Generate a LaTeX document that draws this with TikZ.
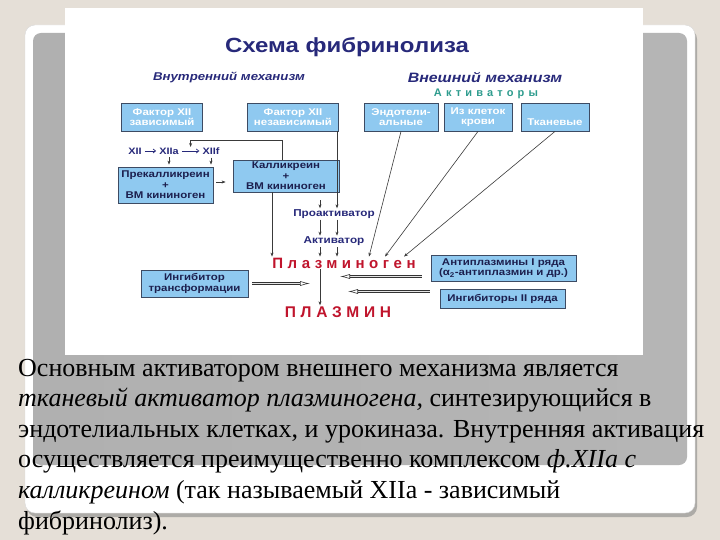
\documentclass[tikz,border=0pt]{standalone}
\usepackage{fontspec}
\setmainfont{Liberation Serif}
\setsansfont{Liberation Sans}
\newfontfamily\boxfont[FakeStretch=1.17]{Liberation Sans}
\newfontfamily\spacedA[LetterSpace=30]{Liberation Sans}
\newfontfamily\spacedB[LetterSpace=38]{Liberation Sans}
\usetikzlibrary{positioning,arrows.meta,calc}
\definecolor{bgbeige}{HTML}{E5DFD7}
\definecolor{boxblue}{HTML}{8FC9F0}
\definecolor{boxline}{HTML}{3D4B63}
\definecolor{navy}{HTML}{27297A}
\definecolor{boxtext}{HTML}{1C1F4E}
\definecolor{actteal}{HTML}{2E9C8E}
\definecolor{plred}{HTML}{C0142C}
\definecolor{lnk}{HTML}{3A3A3A}

\begin{document}
\begin{tikzpicture}[x=1pt, y=-1pt, >={Stealth[length=4pt,width=3pt]},
  fbox/.style={draw=boxline, line width=0.8pt, fill=boxblue, align=center, inner sep=1pt,
    text=boxtext, font=\boxfont\bfseries\fontsize{9.8}{10.5}\selectfont},
  hbox/.style={fbox, text=white},
  hdr/.style={text=navy, inner sep=1pt, font=\boxfont\bfseries\itshape\fontsize{11.3}{13}\selectfont},
  lbl/.style={text=navy, inner sep=1pt, font=\boxfont\bfseries\fontsize{10}{12}\selectfont},
  seqtxt/.style={text=navy, inner sep=1pt, font=\boxfont\bfseries\fontsize{9.3}{11}\selectfont},
  seqarr/.style={draw=navy, line width=0.7pt, -{Straight Barb[length=2.5pt,width=4pt]}},
  lnkarr/.style={draw=lnk, line width=0.6pt, ->},
  hollow/.style={draw=gray!40!black, line width=0.6pt, double=gray!20, double distance=1.1pt,
    -{Latex[open, length=10pt, width=5pt]}},
  plasma/.style={text=plred, inner sep=1pt},
  captxt/.style={anchor=base west, inner sep=0pt, font=\fontsize{26}{30}\selectfont}]
  \useasboundingbox (0,0) rectangle (720,540);
  \fill[bgbeige] (0,0) rectangle (720,540);

  % slide frame
  \fill[rounded corners=10, gray!55!bgbeige] (27,29) rectangle (697,517);
  \filldraw[rounded corners=10, fill=white, draw=gray!30] (25,25) rectangle (695,513);
  \shade[rounded corners=8, left color=gray!62, middle color=gray!18, right color=gray!58] (33,33) rectangle (687,465);
  \fill[white] (65,8) rectangle (643,355);

  % headings
  \node[text=navy, font=\boxfont\bfseries\fontsize{20.5}{24}\selectfont] (title) at (347,47) {Схема фибринолиза};
  \node[hdr] (intl) at (229,77) {Внутренний механизм};
  \node[hdr, font=\boxfont\bfseries\itshape\fontsize{13.6}{15}\selectfont] (extl) at (485,77) {Внешний механизм};
  \node[text=actteal, inner sep=1pt, font=\spacedB\bfseries\fontsize{11}{13}\selectfont] (actv) at (486,94) {Активаторы};

  % top row
  \node[hbox, minimum width=81, minimum height=28] (f12a) at (162,117) {Фактор XII\\зависимый};
  \node[hbox, minimum width=91, minimum height=28] (f12b) at (293,117) {Фактор XII\\независимый};
  \node[hbox, minimum width=74, minimum height=28] (endo) at (401,117) {Эндотели-\\альные};
  \node[hbox, minimum width=68, minimum height=28] (blood) at (478,117) {Из клеток\\крови};
  \node[hbox, minimum width=68, minimum height=28] (tissue) at (555,117) {\strut\\Тканевые};

  % XII activation
  \node[seqtxt] (xii) at (135,151) {XII};
  \node[seqtxt] (xiia) at (169,151) {XIIa};
  \node[seqtxt] (xiif) at (211,151) {XIIf};
  \draw[seqarr, shorten <=2, shorten >=2] (xii) -- (xiia);
  \draw[seqarr, shorten <=2, shorten >=2] (xiia) -- (xiif);

  \node[fbox, minimum width=95, minimum height=36] (prek) at (165.5,185) {Прекалликреин\\+\\ВМ кининоген};
  \node[fbox, minimum width=106, minimum height=32] (kal) at (286,176) {Калликреин\\+\\ВМ кининоген};

  \node[lbl] (proact) at (334,214) {Проактиватор};
  \node[lbl, below=16pt of proact] (act) {Активатор};
  \node[plasma, font=\spacedA\bfseries\fontsize{15}{18}\selectfont] (plg) at (344,263) {Плазминоген};
  \node[plasma, font=\spacedA\bfseries\fontsize{15.5}{18}\selectfont] (plm) at (338,312) {ПЛАЗМИН};

  \node[fbox, minimum width=145, minimum height=26] (ap) at (503.5,268) {Антиплазмины I ряда\\(α\textsubscript{2}-антиплазмин и др.)};
  \node[fbox, minimum width=125, minimum height=19] (inh2) at (502.5,298.5) {Ингибиторы II ряда};
  \node[fbox, minimum width=107, minimum height=27] (inh) at (194.5,283.5) {Ингибитор\\трансформации};

  % connectors
  \draw[lnkarr, shorten <=2, shorten >=2] (xiia.south) -- (xiia.south |- prek.north);
  \draw[lnkarr, shorten <=2, shorten >=2] (xiif.south) -- (xiif.south |- prek.north);
  \draw[lnkarr, shorten <=3, shorten >=7] ($(prek.east)+(0,-3)$) -- ($(prek.east -| kal.west)+(0,-3)$);
  \coordinate (fb) at ($(xiia.east)!0.5!(xiif.west)$);
  \draw[lnkarr] ([xshift=-4]kal.north) |- ([yshift=11]fb) -- ([yshift=4]fb);

  \coordinate (kalL) at ([xshift=-14]kal.south);
  \draw[lnkarr] (kalL) -- (kalL |- plg.north);
  \coordinate (colA) at ([xshift=34]kal.south);
  \coordinate (colB) at ([xshift=44]f12b.south);
  \draw[lnkarr] (colB) -- (colB |- proact.north);
  \draw[lnkarr, shorten <=8] (colA) -- (colA |- proact.north);
  \draw[lnkarr] (colA |- proact.south) -- (colA |- act.north);
  \draw[lnkarr] (colB |- proact.south) -- (colB |- act.north);
  \draw[lnkarr] (colA |- act.south) -- (colA |- plg.north);
  \draw[lnkarr] (colB |- act.south) -- (colB |- plg.north);

  \draw[lnkarr] (endo.south) -- ([xshift=25]plg.north);
  \draw[lnkarr] (blood.south) -- ([xshift=41]plg.north);
  \draw[lnkarr] (tissue.south) -- ([xshift=60]plg.north);

  \draw[lnkarr] (colA |- plg.south) -- (colA |- plm.north);

  % inhibitors
  \coordinate (apin) at ($(ap.west)+(-9,8.5)$);
  \coordinate (i2in) at ($(inh2.west)+(-10,-7)$);
  \draw[hollow] (apin) -- ($(apin -| colA)+(20,0)$);
  \draw[hollow] (i2in) -- ($(i2in -| colA)+(28,0)$);
  \draw[hollow, shorten <=4, shorten >=10] (inh.east) -- (inh.east -| colA);

  % caption
  \foreach \t [count=\i from 0] in {{Основным активатором внешнего механизма является},
      {\textit{тканевый активатор плазминогена,} синтезирующийся в},
      {эндотелиальных клетках, и урокиназа. Внутренняя активация},
      {осуществляется преимущественно комплексом \textit{ф.XIIа с}},
      {\textit{калликреином} (так называемый XIIа - зависимый},
      {фибринолиз).}}
    \node[captxt] (cap\i) at (18,376+30.6*\i) {\t};
\end{tikzpicture}
\end{document}
